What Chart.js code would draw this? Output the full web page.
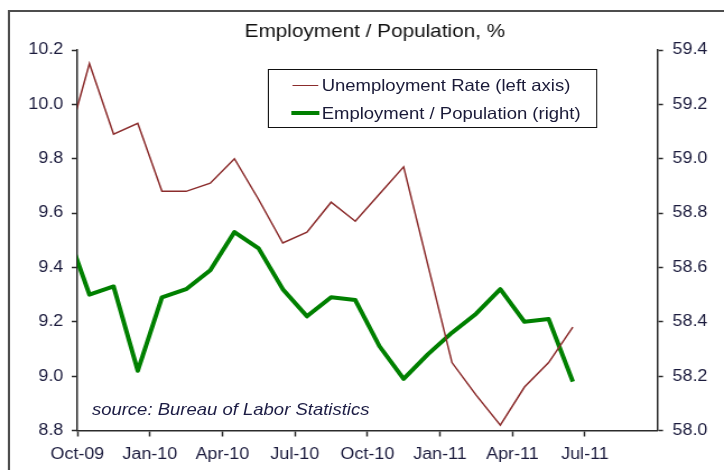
<!DOCTYPE html>
<html>
<head>
<meta charset="utf-8">
<title>Employment / Population</title>
<script src="https://cdn.jsdelivr.net/npm/chart.js@4"></script>
<style>
  html, body { margin: 0; padding: 0; background: #fff; overflow: hidden; width: 724px; height: 470px; }
  /* the chart is laid out 646px wide and stretched to the full 724px */
  #stage {
    position: absolute; left: 0; top: 0;
    width: 646px; height: 470px;
    transform: scaleX(1.1207); transform-origin: 0 0;
    font-family: 'Liberation Sans', Arial, sans-serif;
  }
  #frame { position: absolute; left: 7px; top: 10px; width: 720px; height: 540px; border: 2px solid #4d4d4d; }
  #chart { position: absolute; left: 0; top: 0; }
  #legend { position: absolute; left: 238.5px; top: 69px; width: 294px; height: 59px; border: 1.5px solid #111; box-sizing: border-box; }
  .row { position: absolute; left: 287px; height: 20px; line-height: 20px; font-size: 16.5px; color: #1a1a38; white-space: nowrap; }
  .swatch { position: absolute; }
  #source { position: absolute; left: 82px; top: 399px; line-height: 20px; font-size: 16.5px; font-style: italic; color: #1c1c44; white-space: nowrap; }
</style>
</head>
<body>
<div id="stage">
  <div id="frame"></div>
  <canvas id="chart" width="646" height="470"></canvas>
  <div id="legend"></div>
  <div class="swatch" style="left:261px; top:84.5px; width:22.5px; height:1.5px; background:#8b2c2c"></div>
  <div class="row" style="top:75px">Unemployment Rate (left axis)</div>
  <div class="swatch" style="left:260px; top:111px; width:25px; height:4px; background:#008000"></div>
  <div class="row" style="top:103px">Employment / Population (right)</div>
  <div id="source">source: Bureau of Labor Statistics</div>
</div>
<script>
const months = [
    'Sep-09', 'Oct-09', 'Nov-09', 'Dec-09',
    'Jan-10', 'Feb-10', 'Mar-10', 'Apr-10', 'May-10', 'Jun-10',
    'Jul-10', 'Aug-10', 'Sep-10', 'Oct-10', 'Nov-10', 'Dec-10',
    'Jan-11', 'Feb-11', 'Mar-11', 'Apr-11', 'May-11', 'Jun-11'
];

// unemployment rate, % (left axis)
const unemploymentRate = [
    9.83, 10.15, 9.89, 9.93,
    9.68, 9.68, 9.71, 9.80, 9.65, 9.49,
    9.53, 9.64, 9.57, 9.67, 9.77, 9.41,
    9.05, 8.93, 8.82, 8.96, 9.05, 9.18
];

// employment / population ratio, % (right axis)
const employmentPopulation = [
    58.75, 58.50, 58.53, 58.22,
    58.49, 58.52, 58.59, 58.73, 58.67, 58.52,
    58.42, 58.49, 58.48, 58.31, 58.19, 58.28,
    58.36, 58.43, 58.52, 58.40, 58.41, 58.18
];

const quarterLabels = ['Oct-09', 'Jan-10', 'Apr-10', 'Jul-10', 'Oct-10', 'Jan-11', 'Apr-11', 'Jul-11'];

const fontFamily = "'Liberation Sans', Arial, sans-serif";
const axisColor = '#2b2b2b';
const tickTextColor = '#1b1b3d';

// months sit mid-way between the quarter ticks; Oct-09 starts at 0
const toPoints = values => values.map((v, i) => ({ x: i - 0.5, y: v }));

const axisBase = {
    grid: {
        drawOnChartArea: false,
        drawTicks: true,
        tickLength: 5,
        tickColor: axisColor,
        tickWidth: 1.5
    },
    border: { display: true, color: axisColor, width: 1.5 },
    ticks: {
        color: tickTextColor,
        font: { family: fontFamily, size: 16 }
    }
};

const config = {
    type: 'line',
    data: {
        datasets: [
            {
                label: 'Unemployment Rate (left axis)',
                data: toPoints(unemploymentRate),
                borderColor: '#8b2c2c',
                borderWidth: 1.5,
                pointRadius: 0,
                tension: 0,
                clip: 0,
                yAxisID: 'yLeft'
            },
            {
                label: 'Employment / Population (right)',
                data: toPoints(employmentPopulation),
                borderColor: '#008000',
                borderWidth: 4,
                borderJoinStyle: 'round',
                pointRadius: 0,
                tension: 0,
                clip: 0,
                yAxisID: 'yRight'
            }
        ]
    },
    options: {
        responsive: false,
        animation: false,
        layout: { padding: { left: 23, right: 0, top: 0, bottom: 0 } },
        plugins: {
            legend: { display: false },
            tooltip: { enabled: false },
            title: {
                display: true,
                text: 'Employment / Population, %',
                color: '#111',
                font: { family: fontFamily, size: 18.5, weight: 'normal' },
                padding: { top: 20.9, bottom: 6.9 }
            }
        },
        scales: {
            x: {
                type: 'linear',
                min: 0,
                max: 24,
                afterBuildTicks: scale => {
                    scale.ticks = quarterLabels.map((_, k) => ({ value: k * 3 }));
                },
                afterFit: scale => { scale.height = 39.5; },
                grid: { ...axisBase.grid, tickLength: 6 },
                border: axisBase.border,
                ticks: {
                    ...axisBase.ticks,
                    autoSkip: false,
                    maxRotation: 0,
                    padding: 8.5,
                    callback: v => quarterLabels[Math.round(v / 3)]
                }
            },
            yLeft: {
                position: 'left',
                min: 8.8,
                max: 10.2,
                afterFit: scale => { scale.width = 46; },
                grid: axisBase.grid,
                border: axisBase.border,
                ticks: {
                    ...axisBase.ticks,
                    stepSize: 0.2,
                    padding: 7.5,
                    callback: v => v.toFixed(1)
                }
            },
            yRight: {
                position: 'right',
                min: 58.0,
                max: 59.4,
                afterFit: scale => { scale.width = 59.4; },
                grid: axisBase.grid,
                border: axisBase.border,
                ticks: {
                    ...axisBase.ticks,
                    stepSize: 0.2,
                    padding: 8.5,
                    callback: v => v.toFixed(1)
                }
            }
        }
    }
};

const chart = new Chart(document.getElementById('chart'), config);
</script>
</body>
</html>
